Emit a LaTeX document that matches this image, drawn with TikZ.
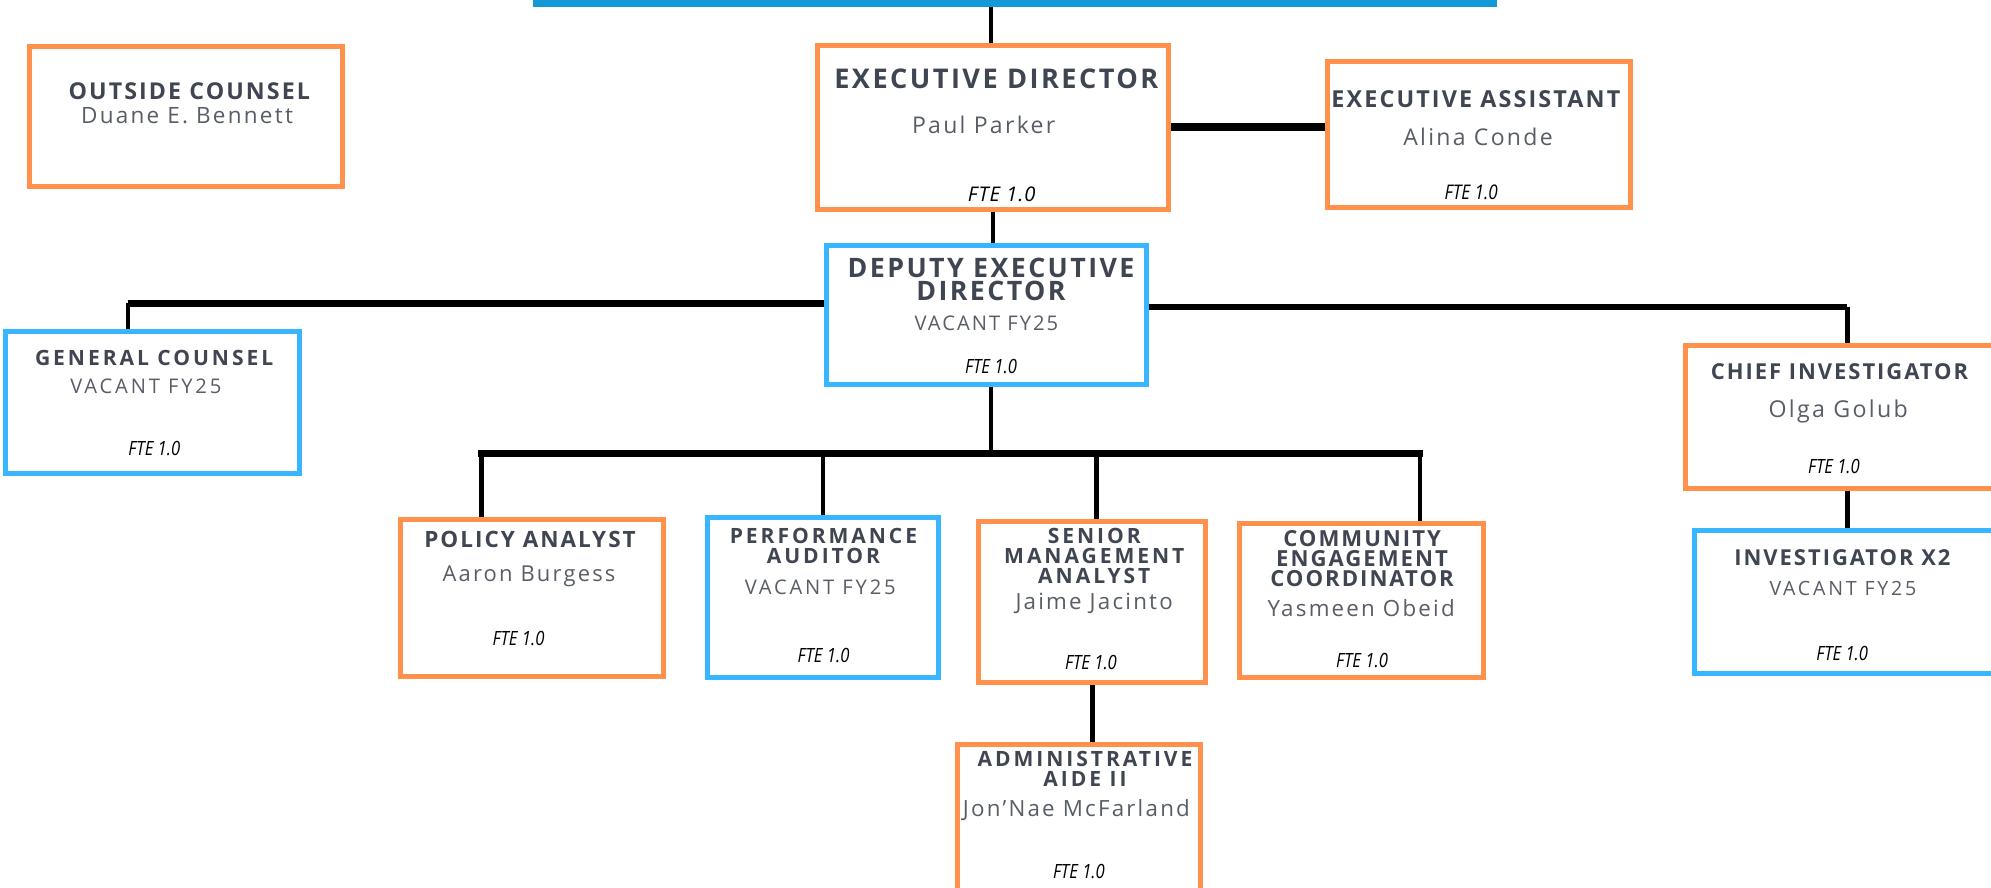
\documentclass[tikz,border=0pt]{standalone}
\usepackage{fontspec}
\usepackage{tikz}
\usetikzlibrary{calc,positioning}
\newfontfamily\headfont[LetterSpace=9]{Open Sans}
\newfontfamily\headwide[LetterSpace=14]{Open Sans}
\newfontfamily\namefont[LetterSpace=10]{Open Sans}
\newfontfamily\namewide[LetterSpace=14]{Open Sans}
\newfontfamily\ftefont[FakeStretch=0.85]{Open Sans}
\newfontfamily\ftewidefont[LetterSpace=5]{Open Sans}
\definecolor{postorange}{HTML}{FF914D}
\definecolor{postblue}{HTML}{38B6FF}
\definecolor{topblue}{HTML}{1399D8}
\definecolor{ink}{HTML}{3F4551}
\definecolor{slate}{HTML}{585D68}
\tikzstyle{post}      =[draw, line width=2.8pt, inner sep=0pt, fill=white]
\tikzstyle{orangepost}=[post, draw=postorange]
\tikzstyle{bluepost}  =[post, draw=postblue]
\tikzstyle{tie}       =[line width=2.5pt, black]
\tikzstyle{beam}      =[line width=3.6pt, black]
\tikzset{span/.style 2 args={minimum width=#1*0.25mm, minimum height=#2*0.25mm},
         role/.style 2 args={text=ink, inner sep=0pt, anchor=base, align=center,
                  font=\headfont\bfseries\fontsize{#1}{#2}\selectfont},
         rolew/.style 2 args={role={#1}{#2},
                  font=\headwide\bfseries\fontsize{#1}{#2}\selectfont},
         person/.style={text=slate, inner sep=0pt, anchor=base,
                  font=\namefont\fontsize{#1}{#1}\selectfont},
         personw/.style={person=#1, font=\namewide\fontsize{#1}{#1}\selectfont},
         fte/.style={text=black, inner sep=0pt, anchor=base,
                  font=\ftefont\itshape\fontsize{#1}{#1}\selectfont},
         ftewide/.style={fte=#1, font=\ftewidefont\itshape\fontsize{#1}{#1}\selectfont}}

\begin{document}
\begin{tikzpicture}[x=0.25mm, y=-0.25mm]
    \useasboundingbox (0,0) rectangle (1568,698.6);
    % posts
    \node[fill=topblue, inner sep=0pt, span={759.6}{15}] (bar) at (799.5,-2.3) {};
    \node[orangepost, span={246.5}{110}] (oc) at (146.3,92) {};
    \node[orangepost, span={276.6}{129}] (ed) at (782,100.2) {};
    \node[orangepost, span={238.6}{115}] (ea) at (1165.1,106) {};
    \node[bluepost, span={251.8}{109.4}] (ded) at (776.7,247.8) {};
    \node[bluepost, span={231}{111.2}] (gc) at (120.1,317) {};
    \node[orangepost, span={253}{112.3}] (ci) at (1453.5,328.6) {};
    \node[bluepost, span={240.8}{112.5}] (inv) at (1454.6,473.9) {};
    \node[orangepost, span={207}{123.3}] (pa) at (418.8,471) {};
    \node[bluepost, span={181.6}{125.9}] (pf) at (648,470.5) {};
    \node[orangepost, span={178.9}{126.8}] (sma) at (860.3,474.1) {};
    \node[orangepost, span={191.7}{121.5}] (cec) at (1072.1,472.7) {};
    \node[orangepost, span={191.2}{118.9}] (aa) at (849.7,645.5) {};

    % texts
    \node[role={13}{13}] (oct) at (149.1,78) {OUTSIDE COUNSEL};
    \node[person=12.6] (ocn) at (147.3,97.1) {Duane E. Bennett};

    \node[role={15.2}{15.2}] (edt) at (784.7,69.6) {EXECUTIVE DIRECTOR};
    \node[person=12.9] (edn) at (774.7,105) {Paul Parker};
    \node[ftewide=11.3] (edf) at (788.9,158.8) {FTE 1.0};

    \node[role={13.1}{13.1}] (eat) at (1162.3,84.5) {EXECUTIVE ASSISTANT};
    \node[person=12.9] (ean) at (1164,114.7) {Alina Conde};
    \node[fte=11.3] (eaf) at (1158.7,157) {FTE 1.0};

    \node[role={15}{13.1}, anchor=center] (dedt) at (780.5,220.1) {DEPUTY EXECUTIVE\\DIRECTOR};
    \node[person=11.3] (dedn) at (776.9,259.9) {VACANT FY25};
    \node[fte=11] (dedf) at (780.5,294.5) {FTE 1.0};

    \node[rolew={11.8}{11.8}] (gct) at (121.4,288) {GENERAL COUNSEL};
    \node[personw=11.3] (gcn) at (114.9,309.8) {VACANT FY25};
    \node[fte=11] (gcf) at (121.6,358.9) {FTE 1.0};

    \node[role={12.3}{12.3}] (cit) at (1448.7,299.2) {CHIEF INVESTIGATOR};
    \node[person=13] (cin) at (1447.7,328.7) {Olga Golub};
    \node[fte=11] (cif) at (1444.3,372.8) {FTE 1.0};

    \node[role={12.3}{12.3}] (invt) at (1451,445.5) {INVESTIGATOR X2};
    \node[personw=11] (invn) at (1451.4,468.6) {VACANT FY25};
    \node[fte=11] (invf) at (1450.8,520.3) {FTE 1.0};

    \node[role={12.6}{12.6}] (pat) at (417.4,431.3) {POLICY ANALYST};
    \node[person=12.3] (pan) at (416.6,458.1) {Aaron Burgess};
    \node[fte=11] (paf) at (408.4,508.5) {FTE 1.0};

    \node[rolew={11.8}{11.23}, anchor=center] (pft) at (648.5,429.9) {PERFORMANCE\\AUDITOR};
    \node[personw=11.3] (pfn) at (646,468) {VACANT FY25};
    \node[fte=11] (pff) at (648.6,521.9) {FTE 1.0};

    \node[rolew={11.8}{11.2}, anchor=center] (smat) at (861.8,437.75) {SENIOR\\MANAGEMENT\\ANALYST};
    \node[person=12.5] (sman) at (861.7,479.9) {Jaime Jacinto};
    \node[fte=11] (smaf) at (859.2,527.6) {FTE 1.0};

    \node[role={12.4}{11.2}, anchor=center] (cect) at (1072.7,439.95) {COMMUNITY\\ENGAGEMENT\\COORDINATOR};
    \node[person=12.5] (cecn) at (1072,485.6) {Yasmeen Obeid};
    \node[fte=11] (cecf) at (1072.7,525.8) {FTE 1.0};

    \node[rolew={11.8}{11.23}, anchor=center] (aat) at (854.5,605.8) {ADMINISTRATIVE\\AIDE II};
    \node[person=12.5] (aan) at (847.7,643.2) {Jon’Nae McFarland};
    \node[fte=11] (aaf) at (849.7,692.2) {FTE 1.0};

    % connectors
    \coordinate (gcbend) at (101,239);
    \coordinate (cibend) at (1454.8,241.8);
    \coordinate (dded) at (780.5,357);
    \coordinate (busl) at (379.1,357);
    \coordinate (busr) at (1118.3,357);
    \coordinate (dpf) at (648,357);
    \coordinate (dsma) at (863.4,357);
    \draw[tie] (bar.south -| dded) -- (ed.north -| dded);
    \draw[beam, line width=4.5pt] (ed.east) -- (ea.west |- ed.east);
    \draw[tie] (ed.south) -- (ed.south |- ded.north);
    \draw[beam] (ded.west |- gcbend) -- (gcbend);
    \draw[tie] (gcbend) -- (gcbend |- gc.north);
    \draw[beam] (ded.east |- cibend) -- (cibend);
    \draw[tie] (cibend) -- (cibend |- ci.north);
    \draw[tie] (ci.south -| cibend) -- (inv.north -| cibend);
    \draw[tie] (ded.south -| dded) -- (dded);
    \draw[beam, line cap=rect] (busl) -- (busr);
    \draw[tie] (busl) -- (busl |- pa.north);
    \draw[tie] (dpf) -- (dpf |- pf.north);
    \draw[tie] (dsma) -- (dsma |- sma.north);
    \draw[tie] (busr) -- (busr |- cec.north);
    \draw[tie] (sma.south) -- (sma.south |- aa.north);
\end{tikzpicture}
\end{document}
